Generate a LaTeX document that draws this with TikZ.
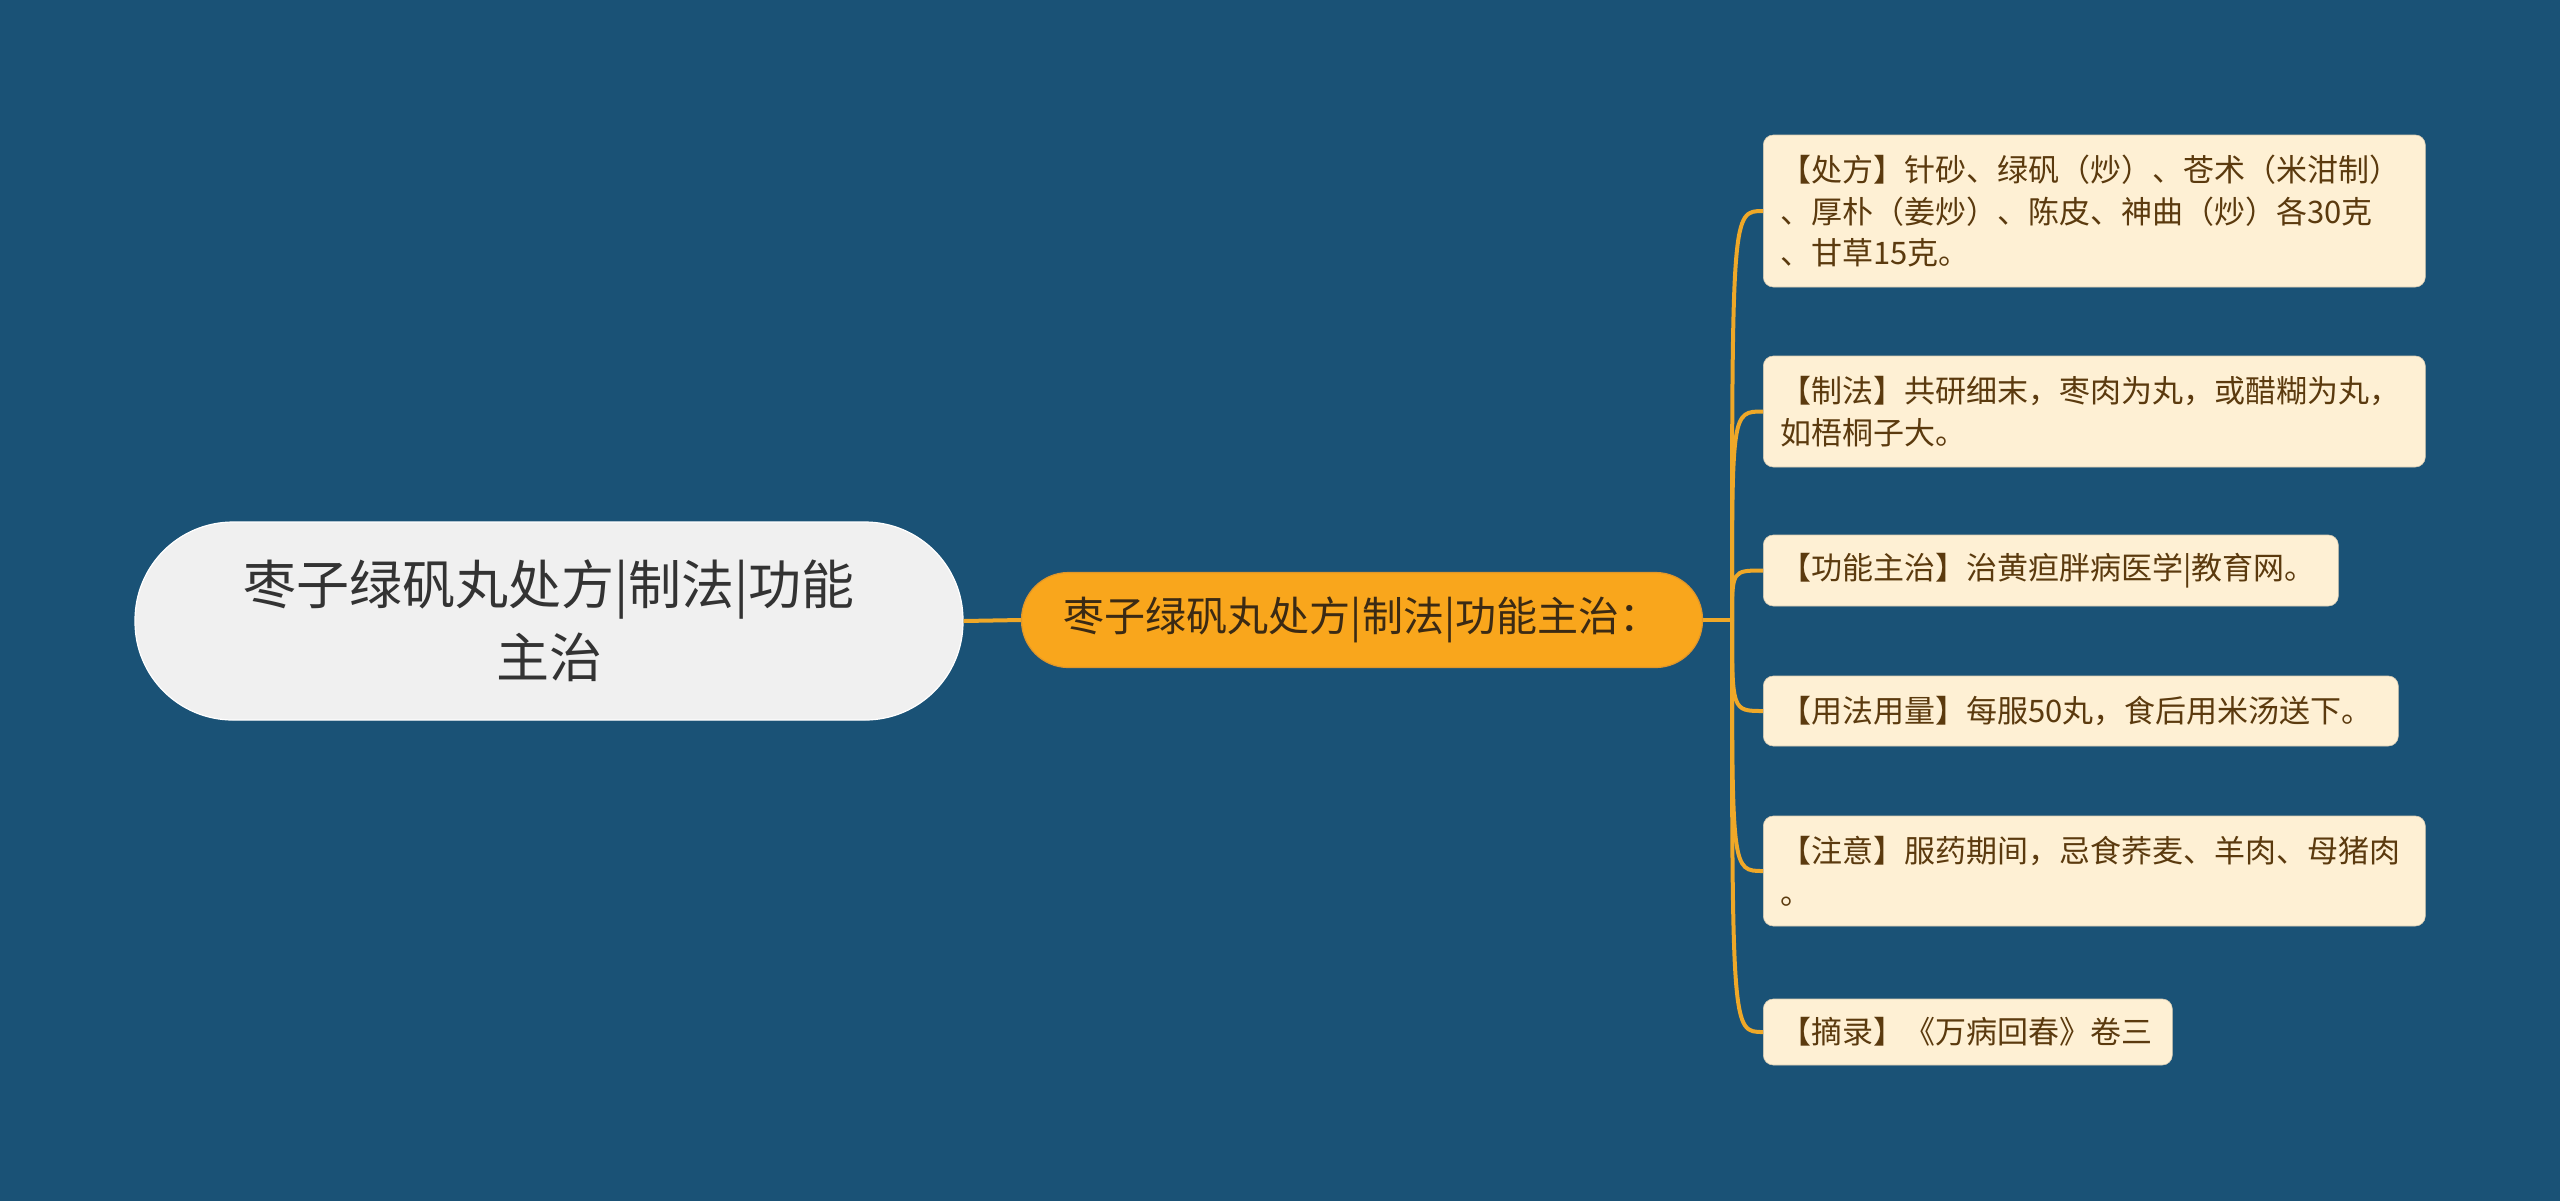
\documentclass[tikz,border=0pt]{standalone}
\usepackage{fontspec}
\setmainfont{Noto Sans CJK SC}
\newfontfamily\cjk{Noto Sans CJK SC}
\definecolor{bgc}{HTML}{1A5276}
\definecolor{rootfill}{HTML}{F0F0F0}
\definecolor{roottext}{HTML}{333333}
\definecolor{midfill}{HTML}{F9A61C}
\definecolor{midline}{HTML}{E0962A}
\definecolor{midtext}{HTML}{3B2A14}
\definecolor{leaffill}{HTML}{FEF0D4}
\definecolor{leaftext}{HTML}{5B3A0E}
\definecolor{connc}{HTML}{EFA828}
\tikzset{
  rootbox/.style={fill=rootfill, draw=white, line width=0.6pt, rounded corners=49pt,
    minimum width=414pt, minimum height=99pt, inner sep=0pt, align=center, text=roottext,
    font=\cjk\fontsize{26.5pt}{36.5pt}\selectfont},
  midbox/.style={fill=midfill, draw=midline, line width=0.6pt, rounded corners=23.5pt,
    minimum width=340.5pt, minimum height=47.5pt, inner sep=0pt, align=center, text=midtext,
    font=\cjk\fontsize{20.5pt}{26pt}\selectfont},
  leafbox/.style={fill=leaffill, draw=leaffill!85!black, line width=0.3pt, rounded corners=5pt,
    anchor=west, inner xsep=8.5pt, inner ysep=0pt, align=left, text=leaftext,
    font=\cjk\fontsize{15.5pt}{20.8pt}\selectfont},
  conn/.style={draw=connc, line width=2pt},
}
\begin{document}
\begin{tikzpicture}[x=0.5pt,y=-0.5pt]
\fill[bgc] (0,0) rectangle (2560,1201);
\useasboundingbox (0,0) rectangle (2560,1201);

\coordinate (J) at (1732,620);

\node[rootbox] (root) at (549,621) {枣子绿矾丸处方|制法|功能\\主治};
\node[midbox] (mid) at (1362,620) {枣子绿矾丸处方|制法|功能主治：};

\node[leafbox, text width=314pt, minimum height=76pt] (l1) at (1763,211)
  {【处方】针砂、绿矾（炒）、苍术（米泔制）\\、厚朴（姜炒）、陈皮、神曲（炒）各30克\\、甘草15克。};
\node[leafbox, text width=314pt, minimum height=55.5pt] (l2) at (1763,411.5)
  {【制法】共研细末，枣肉为丸，或醋糊为丸，\\如梧桐子大。};
\node[leafbox, text width=270.5pt, minimum height=35.5pt] (l3) at (1763,570.5)
  {【功能主治】治黄疸胖病医学|教育网。};
\node[leafbox, text width=300.5pt, minimum height=35pt] (l4) at (1763,711)
  {【用法用量】每服50丸，食后用米汤送下。};
\node[leafbox, text width=314pt, minimum height=55pt] (l5) at (1763,871)
  {【注意】服药期间，忌食荞麦、羊肉、母猪肉\\。};
\node[leafbox, text width=187.5pt, minimum height=33pt] (l6) at (1763,1032)
  {【摘录】《万病回春》卷三};

\begin{scope}[on background layer/.style={}]
\draw[conn] (root.east) -- (mid.west);
\draw[conn] (mid.east) -- (J);
\foreach \l in {l1,l2,l3,l4,l5,l6}{
  \draw[conn] (J) .. controls (J |- \l.west) .. (\l.west);
}
\end{scope}
\end{tikzpicture}
\end{document}
